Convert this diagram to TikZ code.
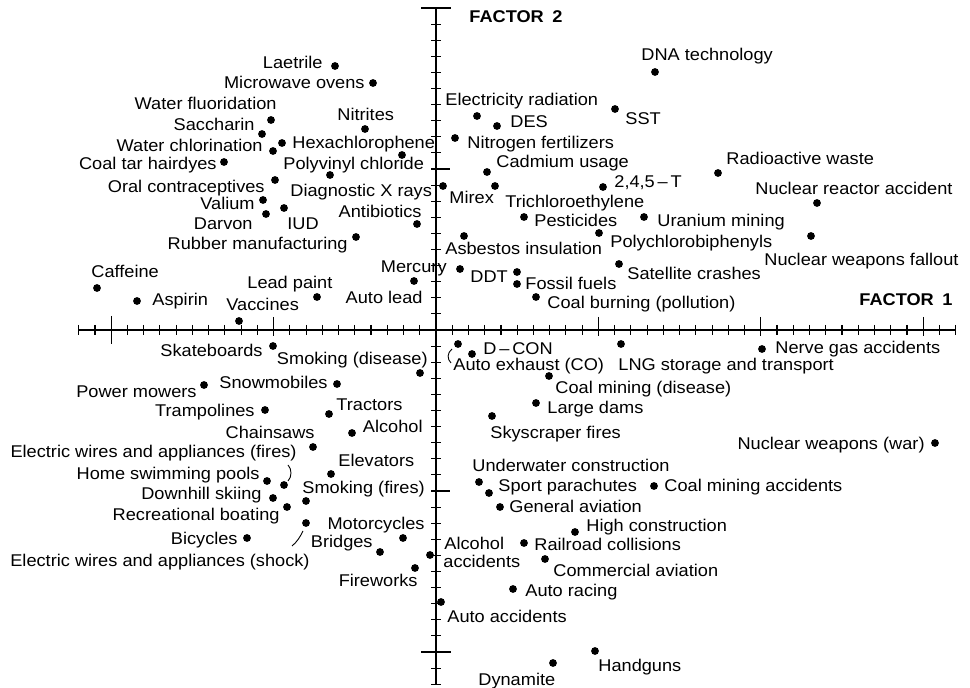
\documentclass[tikz,border=0pt]{standalone}
\usepackage{fontspec}
\setmainfont{Liberation Sans}[FakeStretch=1.07]
\begin{document}
\begin{tikzpicture}[x=0.5pt,y=-0.5pt,
  lbl/.style={inner sep=0pt, font=\fontsize{8.5}{10}\selectfont, text height=6.1pt, text depth=0pt},
  lw/.style={lbl, anchor=west},
  le/.style={lbl, anchor=east},
  factor/.style={lbl, anchor=west, font=\fontsize{8.5}{10}\selectfont\bfseries},
  dot/.style={circle, fill=black, draw=none, inner sep=0pt, minimum size=3.9pt},
  axisline/.style={line width=0.65pt},
  tickline/.style={line width=0.55pt},
  brace/.style={line width=0.45pt}]
\useasboundingbox (0,0) rectangle (970,688);

% ---------- axes ----------
\draw[axisline] (78,330) -- (955,330);
\draw[axisline] (436,8) -- (436,685);
% minor ticks, factor 1
\foreach \i in {-22,...,32}
  \draw[tickline] ({436+16.24*\i},325) -- ({436+16.24*\i},335);
% major ticks, factor 1
\draw[tickline] ({436-16.24*20},316) -- ({436-16.24*20},344);
\foreach \i in {-10,10,20,30}
  \draw[tickline] ({436+16.24*\i},317) -- ({436+16.24*\i},336);
% minor ticks, factor 2
\foreach \j in {-20,...,22}
  \draw[tickline] (431,{330+16.1*\j}) -- (441,{330+16.1*\j});
% major ticks, factor 2
\foreach \j in {-10,10}
  \draw[tickline] (432,{330+16.1*\j}) -- (450,{330+16.1*\j});
\foreach \j in {-20,20}
  \draw[tickline] (421,{330+16.1*\j}) -- (451,{330+16.1*\j});

\node[factor] (f2) at (469,16) {FACTOR\enspace 2};
\node[factor] (f1) at (859,299) {FACTOR\enspace 1};

% ---------- upper left ----------
\node[dot] (laetrile) at (335,66) {};
\node[le] (laetrile-l) at (323,62) {Laetrile};
\node[dot] (microwave) at (373,83) {};
\node[le] (microwave-l) at (365,82) {Microwave ovens};
\node[dot] (fluor) at (271,120) {};
\node[le] (fluor-l) at (277,103) {Water fluoridation};
\node[dot] (sacch) at (262,134) {};
\node[le] (sacch-l) at (255,124) {Saccharin};
\node[dot] (chlor) at (273,151) {};
\node[le] (chlor-l) at (263,145) {Water chlorination};
\node[dot] (coaltar) at (224,162) {};
\node[le] (coaltar-l) at (217,163) {Coal tar hairdyes};
\node[dot] (nitrites) at (365,129) {};
\node[lw] (nitrites-l) at (337,114) {Nitrites};
\node[dot] (hexa) at (282,143) {};
\node[lw] (hexa-l) at (292,142) {Hexachlorophene};
\node[dot] (pvc) at (402,155) {};
\node[lw] (pvc-l) at (283,163) {Polyvinyl chloride};
\node[dot] (oral) at (275,180) {};
\node[le] (oral-l) at (265,186) {Oral contraceptives};
\node[dot] (xrays) at (330,175) {};
\node[lw] (xrays-l) at (290,190) {Diagnostic X rays};
\node[dot] (valium) at (263,200) {};
\node[le] (valium-l) at (255,203) {Valium};
\node[dot] (darvon) at (266,214) {};
\node[le] (darvon-l) at (253,223) {Darvon};
\node[dot] (iud) at (284,208) {};
\node[lw] (iud-l) at (287,223) {IUD};
\node[dot] (antib) at (417,224) {};
\node[le] (antib-l) at (422,211) {Antibiotics};
\node[dot] (rubber) at (356,237) {};
\node[le] (rubber-l) at (348,243) {Rubber manufacturing};
\node[dot] (caffeine) at (97,288) {};
\node[lw] (caffeine-l) at (91,271) {Caffeine};
\node[dot] (aspirin) at (137,301) {};
\node[lw] (aspirin-l) at (152,299) {Aspirin};
\node[dot] (vaccines) at (239,321) {};
\node[lw] (vaccines-l) at (226,304) {Vaccines};
\node[dot] (leadpaint) at (317,297) {};
\node[lw] (leadpaint-l) at (247,282) {Lead paint};
\node[dot] (autolead) at (414,281) {};
\node[le] (autolead-l) at (423,297) {Auto lead};
\node[dot] (mercury) at (460,269) {};
\node[le] (mercury-l) at (447,266) {Mercury};

% ---------- upper right ----------
\node[dot] (dna) at (655,72) {};
\node[lw] (dna-l) at (641,54) {DNA technology};
\node[dot] (elec) at (477,116) {};
\node[lw] (elec-l) at (445,99) {Electricity radiation};
\node[dot] (sst) at (615,109) {};
\node[lw] (sst-l) at (625,118) {SST};
\node[dot] (des) at (497,126) {};
\node[lw] (des-l) at (510,121) {DES};
\node[dot] (nitro) at (455,138) {};
\node[lw] (nitro-l) at (467,142) {Nitrogen fertilizers};
\node[dot] (cadmium) at (487,172) {};
\node[lw] (cadmium-l) at (496,161) {Cadmium usage};
\node[dot] (radwaste) at (718,173) {};
\node[lw] (radwaste-l) at (726,158) {Radioactive waste};
\node[dot] (t245) at (603,187) {};
\node[lw] (t245-l) at (614,181) {2,4,5\,--\,T};
\node[dot] (mirex) at (443,186) {};
\node[lw] (mirex-l) at (449,197) {Mirex};
\node[dot] (trichlor) at (495,186) {};
\node[lw] (trichlor-l) at (505,201) {Trichloroethylene};
\node[dot] (reactor) at (817,203) {};
\node[lw] (reactor-l) at (755,188) {Nuclear reactor accident};
\node[dot] (pesticides) at (524,217) {};
\node[lw] (pesticides-l) at (534,220) {Pesticides};
\node[dot] (uranium) at (644,217) {};
\node[lw] (uranium-l) at (657,220) {Uranium mining};
\node[dot] (pcb) at (599,233) {};
\node[lw] (pcb-l) at (610,241) {Polychlorobiphenyls};
\node[dot] (fallout) at (811,236) {};
\node[lw] (fallout-l) at (764,259) {Nuclear weapons fallout};
\node[dot] (asbestos) at (464,236) {};
\node[lw] (asbestos-l) at (445,248) {Asbestos insulation};
\node[dot] (ddt) at (517,272) {};
\node[lw] (ddt-l) at (470,276) {DDT};
\node[dot] (fossil) at (517,284) {};
\node[lw] (fossil-l) at (525,283) {Fossil fuels};
\node[dot] (satellite) at (619,264) {};
\node[lw] (satellite-l) at (627,273) {Satellite crashes};
\node[dot] (coalburn) at (536,297) {};
\node[lw] (coalburn-l) at (547,302) {Coal burning (pollution)};

% ---------- lower left ----------
\node[dot] (skate) at (273,346) {};
\node[le] (skate-l) at (263,350) {Skateboards};
\node[dot] (smokdis) at (420,373) {};
\node[le] (smokdis-l) at (428,358) {Smoking (disease)};
\node[dot] (snowmob) at (337,384) {};
\node[le] (snowmob-l) at (328,382) {Snowmobiles};
\node[dot] (mowers) at (204,385) {};
\node[le] (mowers-l) at (197,391) {Power mowers};
\node[dot] (tramp) at (265,410) {};
\node[le] (tramp-l) at (255,410) {Trampolines};
\node[dot] (tractors) at (329,414) {};
\node[lw] (tractors-l) at (336,404) {Tractors};
\node[dot] (alcohol) at (352,433) {};
\node[le] (alcohol-l) at (423,426) {Alcohol};
\node[dot] (chainsaws) at (313,447) {};
\node[le] (chainsaws-l) at (315,432) {Chainsaws};
\node[le] (wirefire-l) at (297,451) {Electric wires and appliances (fires)};
\node[dot] (wirefire) at (284,485) {};
\node[dot] (elevators) at (331,474) {};
\node[lw] (elevators-l) at (338,460) {Elevators};
\node[dot] (pools) at (267,481) {};
\node[le] (pools-l) at (260,473) {Home swimming pools};
\node[dot] (skiing) at (273,498) {};
\node[le] (skiing-l) at (262,493) {Downhill skiing};
\node[dot] (smokfire) at (306,501) {};
\node[lw] (smokfire-l) at (302,487) {Smoking (fires)};
\node[dot] (boating) at (287,507) {};
\node[le] (boating-l) at (280,514) {Recreational boating};
\node[dot] (wireshock) at (306,523) {};
\node[dot] (motorcyc) at (403,538) {};
\node[le] (motorcyc-l) at (425,523) {Motorcycles};
\node[dot] (bicycles) at (247,538) {};
\node[le] (bicycles-l) at (238,538) {Bicycles};
\node[dot] (bridges) at (380,552) {};
\node[le] (bridges-l) at (373,541) {Bridges};
\node[le] (wireshock-l) at (310,560) {Electric wires and appliances (shock)};
\node[dot] (fireworks) at (415,568) {};
\node[le] (fireworks-l) at (418,580) {Fireworks};

% ---------- lower right ----------
\node[dot] (autoexh) at (458,344) {};
\node[lw] (autoexh-l) at (453,364) {Auto exhaust (CO)};
\node[dot] (dcon) at (472,354) {};
\node[lw] (dcon-l) at (483,348) {D\,--\,CON};
\node[dot] (lng) at (621,344) {};
\node[lw] (lng-l) at (618,364) {LNG storage and transport};
\node[dot] (nervegas) at (762,349) {};
\node[lw] (nervegas-l) at (775,347) {Nerve gas accidents};
\node[dot] (coaldis) at (549,376) {};
\node[lw] (coaldis-l) at (555,387) {Coal mining (disease)};
\node[dot] (dams) at (536,403) {};
\node[lw] (dams-l) at (547,407) {Large dams};
\node[dot] (skyscr) at (492,416) {};
\node[lw] (skyscr-l) at (490,432) {Skyscraper fires};
\node[dot] (nwwar) at (935,443) {};
\node[le] (nwwar-l) at (925,443) {Nuclear weapons (war)};
\node[dot] (underw) at (479,482) {};
\node[lw] (underw-l) at (472,465) {Underwater construction};
\node[dot] (parach) at (489,493) {};
\node[lw] (parach-l) at (498,485) {Sport parachutes};
\node[dot] (coalacc) at (654,486) {};
\node[lw] (coalacc-l) at (664,485) {Coal mining accidents};
\node[dot] (genav) at (500,507) {};
\node[lw] (genav-l) at (509,506) {General aviation};
\node[dot] (highcon) at (575,532) {};
\node[lw] (highcon-l) at (586,525) {High construction};
\node[dot] (alcacc) at (430,555) {};
\node[lw] (alcacc-l1) at (444,543) {Alcohol};
\node[lw] (alcacc-l2) at (443,561) {accidents};
\node[dot] (railroad) at (524,543) {};
\node[lw] (railroad-l) at (534,544) {Railroad collisions};
\node[dot] (commav) at (545,559) {};
\node[lw] (commav-l) at (553,570) {Commercial aviation};
\node[dot] (autorace) at (513,589) {};
\node[lw] (autorace-l) at (525,590) {Auto racing};
\node[dot] (autoacc) at (441,602) {};
\node[lw] (autoacc-l) at (447,616) {Auto accidents};
\node[dot] (handguns) at (595,651) {};
\node[lw] (handguns-l) at (598,665) {Handguns};
\node[dot] (dynamite) at (553,663) {};
\node[lw] (dynamite-l) at (478,679) {Dynamite};

% ---------- small leader marks ----------
\coordinate (exh-a) at (452,349);
\coordinate (exh-b) at (451,363);
\draw[brace] (exh-a) .. controls (447,353) and (447,359) .. (exh-b);
\coordinate (fire-a) at (288,465);
\coordinate (fire-b) at (288,481);
\draw[brace] (fire-a) .. controls (292,469) and (292,477) .. (fire-b);
\coordinate (shock-a) at (292,546);
\coordinate (shock-b) at (303,531);
\draw[brace] (shock-a) .. controls (297,542) and (300,537) .. (shock-b);
\end{tikzpicture}
\end{document}
